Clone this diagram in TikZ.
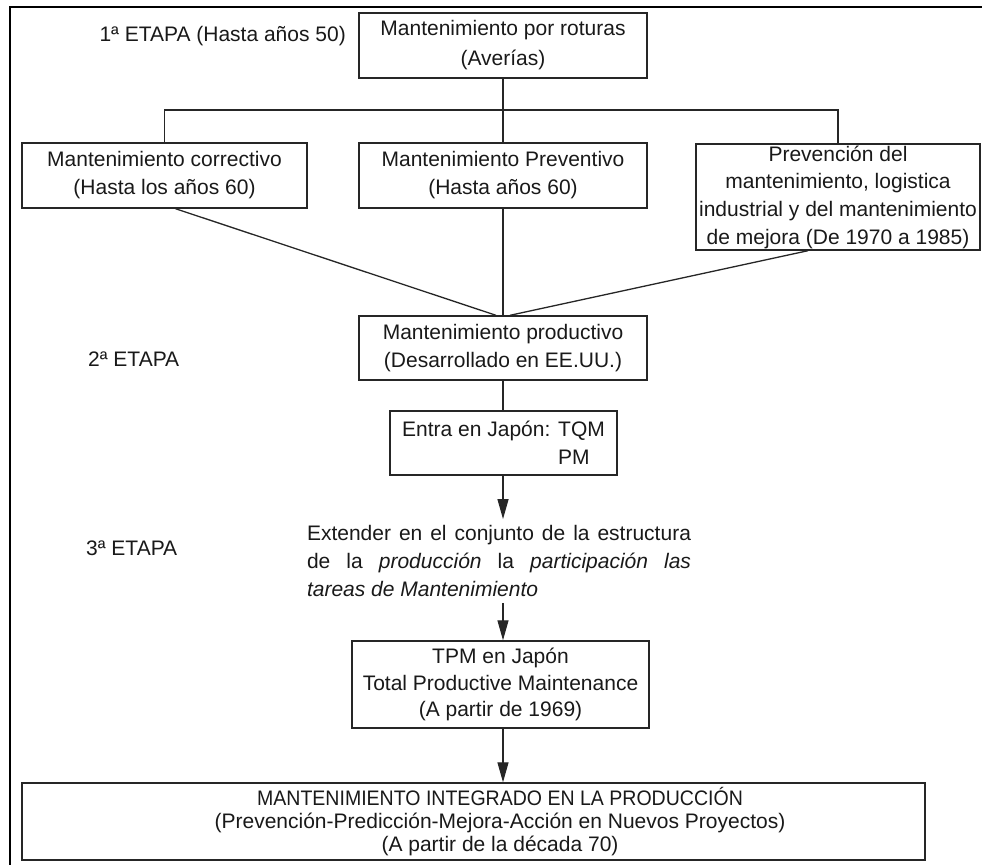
\documentclass[tikz,border=0pt]{standalone}
\usepackage{fontspec}
\usepackage{graphicx}
\setmainfont{Liberation Sans}
\usetikzlibrary{arrows.meta,calc}

\begin{document}
\begin{tikzpicture}[x=1pt,y=-1pt,
  box/.style={draw=black!85, line width=1.4pt, inner sep=0pt, align=center, text=black!90},
  txt/.style={inner sep=0pt, text=black!90},
  conn/.style={draw=black!85, line width=1.3pt},
  arr/.style={conn, -{Triangle[length=20pt,width=11pt]}},
  frameline/.style={draw=black, line width=2.8pt},
  font=\fontsize{21}{28}\selectfont]
\useasboundingbox (0,0) rectangle (982,865);

% outer frame (top and left edges)
\draw[frameline] (982,7) -- (10,7) -- (10,865);

% first stage
\node[box, minimum width=288pt, minimum height=65pt, font=\fontsize{21}{30}\selectfont]
  (roturas) at (503,45.5) {Mantenimiento por roturas\\(Averías)};
\node[txt, anchor=east] (etapa1) at (346,36) {1ª ETAPA (Hasta años 50)};
\coordinate (split) at (503,110);
\coordinate (spine) at (503,0);

\node[box, minimum width=285pt, minimum height=65pt] (correct) at (164.5,175.5)
  {Mantenimiento correctivo\\(Hasta los años 60)};
\node[box, minimum width=288pt, minimum height=65pt] (prevent) at (503,175.5)
  {Mantenimiento Preventivo\\(Hasta años 60)};
\node[box, minimum width=284pt, minimum height=106pt, font=\fontsize{21}{27.7}\selectfont]
  (logist) at (838,197)
  {Prevención del\\mantenimiento, logistica\\industrial y del mantenimiento\\de mejora (De 1970 a 1985)};

% second stage
\node[txt, anchor=west] (etapa2) at (88,359) {2ª ETAPA};
\node[box, minimum width=288pt, minimum height=64pt] (product) at (503,348)
  {Mantenimiento productivo\\(Desarrollado en EE.UU.)};
\node[box, minimum width=227pt, minimum height=64pt, align=left] (japon) at (503.5,443)
  {Entra en Japón: TQM\\\hphantom{Entra en Japón: }PM};

% third stage
\node[txt, anchor=west] (etapa3) at (86,548) {3ª ETAPA};
\node[txt, text width=384pt, align=justify, inner ysep=6pt] (extend) at (499,561)
  {\hyphenpenalty=10000 Extender en el conjunto de la estructura\linebreak
   de la \textit{producción} la \textit{participación las}\linebreak
   \textit{tareas de Mantenimiento}};
\node[box, minimum width=297pt, minimum height=87pt, font=\fontsize{21}{26.5}\selectfont]
  (tpm) at (500.5,684.5) {TPM en Japón\\Total Productive Maintenance\\(A partir de 1969)};

% final stage
\node[box, minimum width=903pt, minimum height=77pt] (integ) at (473.5,821.5) {};
\node[txt, align=center, font=\fontsize{21}{23}\selectfont] (integtxt) at (500,822)
  {\scalebox{0.93}[1]{MANTENIMIENTO INTEGRADO EN LA PRODUCCIÓN}\\
   (Prevención-Predicción-Mejora-Acción en Nuevos Proyectos)\\
   (A partir de la década 70)};

% connectors
\draw[conn] (roturas.south) -- (split);
\draw[conn] (correct.north) |- (split) -| (logist.north);
\draw[conn] (split) -- (prevent.north);
\draw[conn] ($(correct.south)+(11,0)$) -- ($(product.north)+(-7,0)$);
\draw[conn] (prevent.south) -- (product.north);
\draw[conn] ($(logist.south)+(-30,0)$) -- ($(product.north)+(7,0)$);
\draw[conn] (product.south) -- (product.south |- japon.north);
\draw[arr] (japon.south -| spine) -- (extend.north -| spine);
\draw[arr] (extend.south -| spine) -- (tpm.north -| spine);
\draw[arr] (tpm.south -| spine) -- (integ.north -| spine);
\end{tikzpicture}
\end{document}
